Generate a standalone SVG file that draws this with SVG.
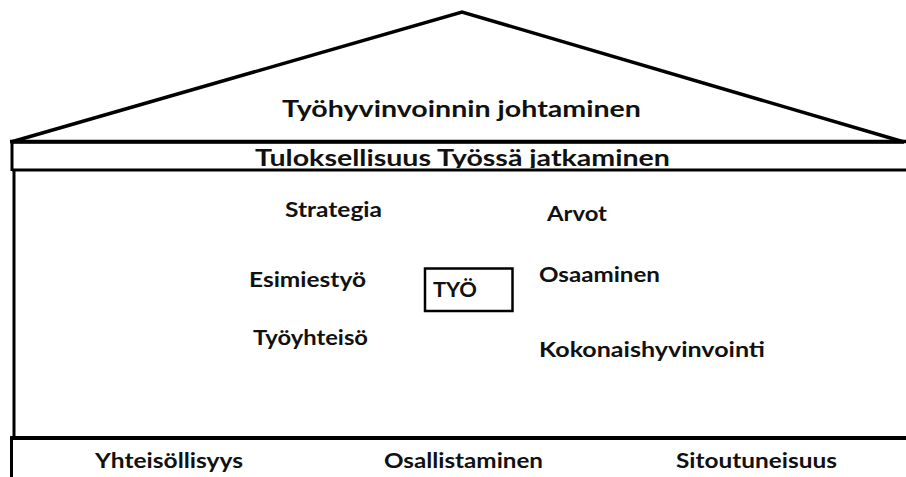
<svg xmlns="http://www.w3.org/2000/svg" width="906" height="477" viewBox="0 0 906 477">
  <defs>
    <style>
      .ln { stroke: #000; fill: none; }
      .lbl { font-family: Lato, "Open Sans", "Liberation Sans", sans-serif; font-weight: bold; fill: #111; }
      .big { font-size: 23px; }
      .mid { font-size: 21px; }
    </style>
    <clipPath id="bandClip">
      <rect x="0" y="143" width="906" height="25"/>
    </clipPath>
  </defs>
  <rect width="906" height="477" fill="#fff"/>

  <!-- structure of the house -->
  <g id="house">
    <polygon class="ln" points="11,142 462,12 904,142" stroke-width="3.5" stroke-linejoin="miter"/>
    <line class="ln" x1="10" y1="141.5" x2="906" y2="141.5" stroke-width="3.5"/>
    <line class="ln" x1="12" y1="170" x2="906" y2="170" stroke-width="3"/>
    <line class="ln" x1="12" y1="140" x2="12" y2="171" stroke-width="3"/>
    <line class="ln" x1="14" y1="170" x2="14" y2="439" stroke-width="3"/>
    <line class="ln" x1="10" y1="438" x2="906" y2="438" stroke-width="4"/>
    <line class="ln" x1="11.5" y1="438" x2="11.5" y2="477" stroke-width="3"/>
  </g>

  <g id="roof">
    <text class="lbl big" x="282" y="117" textLength="359" lengthAdjust="spacingAndGlyphs">Työhyvinvoinnin johtaminen</text>
  </g>

  <g id="band" clip-path="url(#bandClip)">
    <text class="lbl big" x="255" y="166" textLength="415" lengthAdjust="spacingAndGlyphs">Tuloksellisuus Työssä jatkaminen</text>
  </g>

  <g id="strategia"><text class="lbl mid" x="285" y="217" textLength="97" lengthAdjust="spacingAndGlyphs">Strategia</text></g>
  <g id="arvot"><text class="lbl mid" x="547" y="221" textLength="60" lengthAdjust="spacingAndGlyphs">Arvot</text></g>
  <g id="esimiestyo"><text class="lbl mid" x="249" y="287" textLength="117" lengthAdjust="spacingAndGlyphs">Esimiestyö</text></g>
  <g id="osaaminen"><text class="lbl mid" x="539" y="282" textLength="121" lengthAdjust="spacingAndGlyphs">Osaaminen</text></g>
  <g id="tyoyhteiso"><text class="lbl mid" x="253" y="345" textLength="115" lengthAdjust="spacingAndGlyphs">Työyhteisö</text></g>
  <g id="kokonaishyvinvointi"><text class="lbl mid" x="539" y="357" textLength="226" lengthAdjust="spacingAndGlyphs">Kokonaishyvinvointi</text></g>

  <g id="tyo">
    <rect class="ln" x="425" y="268.5" width="87.5" height="42.5" stroke-width="2.5"/>
    <text class="lbl mid" x="433" y="297" textLength="44" lengthAdjust="spacingAndGlyphs">TYÖ</text>
  </g>

  <g id="foundation">
    <text class="lbl mid" x="95" y="468" textLength="148" lengthAdjust="spacingAndGlyphs">Yhteisöllisyys</text>
    <text class="lbl mid" x="384" y="468" textLength="159" lengthAdjust="spacingAndGlyphs">Osallistaminen</text>
    <text class="lbl mid" x="676" y="468" textLength="161" lengthAdjust="spacingAndGlyphs">Sitoutuneisuus</text>
  </g>

  <g id="connectors"/>
</svg>
